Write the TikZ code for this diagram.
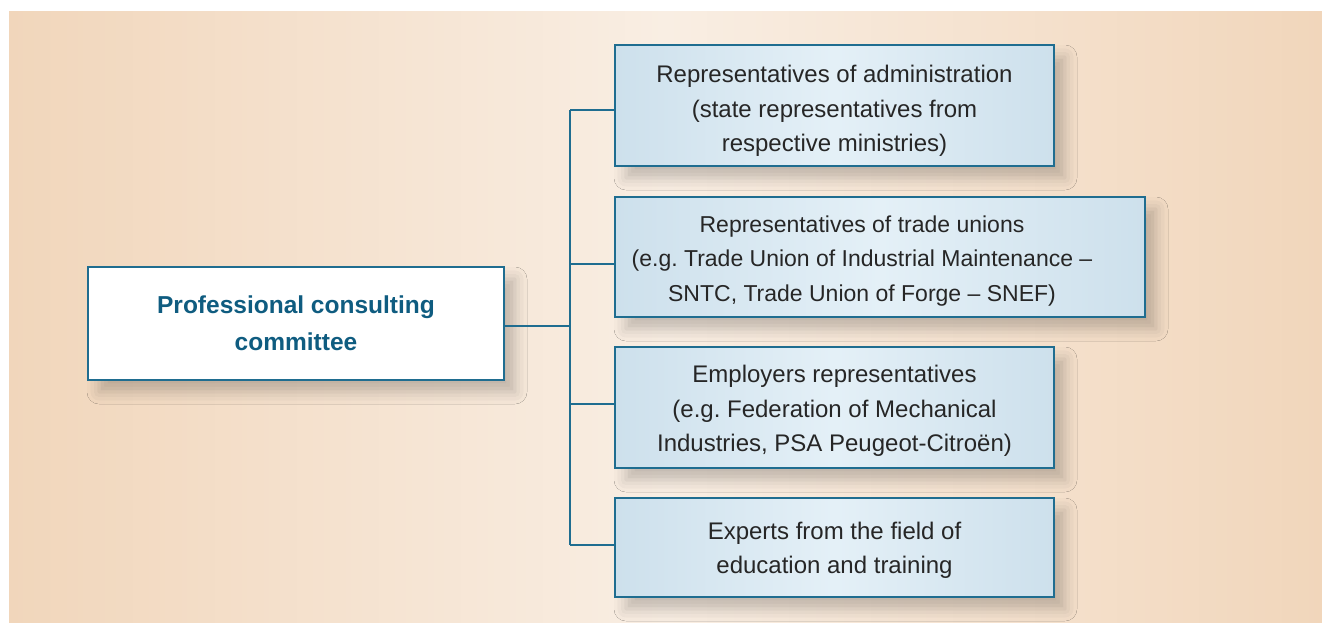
\documentclass[tikz,border=0pt]{standalone}
\usepackage{fontspec}
\setmainfont{Liberation Sans}
\frenchspacing
\usetikzlibrary{shadows.blur}
\definecolor{bgside}{HTML}{F1D6BB}
\definecolor{bgmid}{HTML}{F9EEE3}
\definecolor{boxedge}{HTML}{CDE0EC}
\definecolor{boxmid}{HTML}{E4F0F7}
\definecolor{linec}{HTML}{1F6D90}
\definecolor{titlec}{HTML}{0F5C80}
\definecolor{bodyc}{HTML}{262626}
\newcommand{\lowertext}[2]{\raisebox{-#1}[\height][\depth]{\begin{tabular}{@{}c@{}}#2\end{tabular}}}
\tikzset{
  boxshadow/.style={blur shadow={shadow xshift=11pt, shadow yshift=-12pt, shadow blur radius=12pt, shadow opacity=22}},
  rbox/.style={draw=linec, line width=1.4pt, left color=boxedge, right color=boxedge, middle color=boxmid,
    boxshadow, inner sep=0pt, align=center, text=bodyc,
    font=\fontsize{24}{34.5}\selectfont},
  lbox/.style={draw=linec, line width=1.4pt, fill=white, boxshadow, inner sep=0pt, align=center,
    text=titlec, font=\bfseries\fontsize{24.5}{37}\selectfont},
  conn/.style={draw=linec, line width=1.3pt},
}
\begin{document}
\begin{tikzpicture}[x=1pt,y=-1pt]
\useasboundingbox (0,0) rectangle (1322,622);
\fill[left color=bgside, right color=bgside, middle color=bgmid] (9,11) rectangle (1322,622);

\node[lbox, minimum width=416pt, minimum height=113pt] (L) at (296,323.5)
  {\lowertext{1pt}{Professional consulting\\committee}};

\node[rbox, minimum width=439pt, minimum height=121pt] (b1) at (834.5,105.5)
  {\lowertext{5pt}{Representatives of administration\\(state representatives from\\respective ministries)}};
\node[rbox, minimum width=530pt, minimum height=120pt] (b2) at (880,257)
  {\hspace*{-36pt}\lowertext{3pt}{\fontsize{23}{34.5}\selectfont Representatives of trade unions\\\fontsize{23}{34.5}\selectfont(e.g. Trade Union of Industrial Maintenance –\\\fontsize{23}{34.5}\selectfont SNTC, Trade Union of Forge – SNEF)}};
\node[rbox, minimum width=439pt, minimum height=121pt] (b3) at (834.5,407.5)
  {\lowertext{3pt}{Employers representatives\\(e.g. Federation of Mechanical\\Industries, PSA Peugeot-Citroën)}};
\node[rbox, minimum width=439pt, minimum height=99pt] (b4) at (834.5,547.5)
  {\lowertext{2pt}{Experts from the field of\\education and training}};

\coordinate (jtop) at (570,110);
\coordinate (jbot) at (570,545);
\draw[conn] (jtop) -- (jbot);
\draw[conn] ([yshift=-2.5pt]L.east) -- ([yshift=-2.5pt]L.east -| jtop);
\draw[conn] ([yshift=-4.5pt]b1.west) -- ([yshift=-4.5pt]b1.west -| jtop);
\draw[conn] ([yshift=-7pt]b2.west) -- ([yshift=-7pt]b2.west -| jtop);
\draw[conn] ([yshift=3.5pt]b3.west) -- ([yshift=3.5pt]b3.west -| jtop);
\draw[conn] ([yshift=2.5pt]b4.west) -- ([yshift=2.5pt]b4.west -| jtop);
\end{tikzpicture}
\end{document}
